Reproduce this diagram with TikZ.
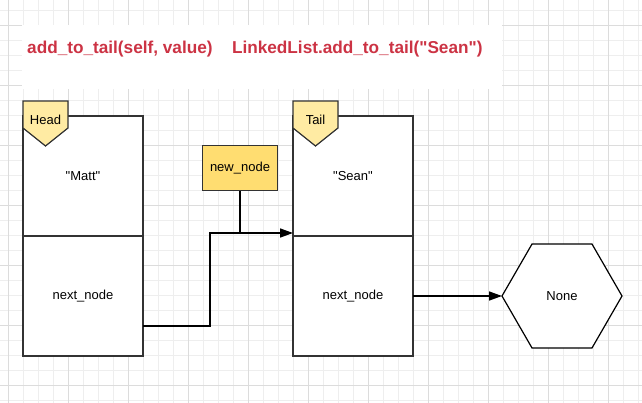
\documentclass[tikz,border=0pt]{standalone}
\usepackage{fontspec}
\setmainfont{Liberation Sans}[Ligatures=TeXOff]
\usepackage{tikz}
\usetikzlibrary{shapes.geometric,positioning,calc,arrows.meta}
\definecolor{titlered}{HTML}{CC3344}
\definecolor{taglight}{HTML}{FFEBA3}
\definecolor{tagdark}{HTML}{FFDD71}
\definecolor{boxline}{HTML}{333333}
\definecolor{gridminor}{HTML}{EEEEEE}
\definecolor{gridmajor}{HTML}{DCDCDC}
\tikzstyle{cell} = [rectangle, minimum width=120pt, minimum height=120pt, outer sep=0pt, draw=boxline, line width=2pt, fill=white, font=\fontsize{13}{15}\selectfont]
\tikzstyle{tagshape} = [draw=boxline, line width=1.2pt, fill=taglight, line join=miter]
\tikzstyle{tagtext} = [inner sep=0pt, font=\fontsize{13}{15}\selectfont]
\tikzstyle{newbox} = [rectangle, minimum width=75pt, minimum height=45pt, draw=boxline, line width=1.5pt, fill=tagdark, font=\fontsize{13}{15}\selectfont]
\tikzstyle{nonebox} = [regular polygon, regular polygon sides=6, minimum size=120pt, inner sep=0pt, outer sep=0pt, draw=black, line width=1.2pt, fill=white, font=\fontsize{13}{15}\selectfont]
\tikzstyle{title} = [inner sep=0pt, font=\fontsize{17.2}{20}\selectfont\bfseries, text=titlered]
\tikzstyle{line} = [line width=1.5pt, draw=black]
\tikzstyle{arrow} = [line, -{Triangle[length=13pt,width=9pt]}]

\begin{document}
\begin{tikzpicture}[x=1pt, y=1pt]
  \useasboundingbox (0,0) rectangle (642,-402);
  \clip (0,0) rectangle (642,-402);
  \fill[white] (0,0) rectangle (642,-402);
  % grid paper
  \begin{scope}[shift={(8,-10.7)}]
    \draw[gridminor, line width=0.8pt, step=15] (-15,15) grid (645,-405);
  \end{scope}
  \begin{scope}[shift={(8,-25.7)}]
    \draw[gridmajor, line width=0.8pt, step=60] (-60,60) grid (660,-420);
  \end{scope}
  \fill[white] (22,-25) rectangle (502,-89);

  \node (sig)[title, anchor=west] at (27,-49.5) {add\_to\_tail(self, value)};
  \node (call)[title, right=19pt of sig] {LinkedList.add\_to\_tail("Sean")};

  \node (matt)[cell] at (83,-176) {"Matt"};
  \node (mattnext)[cell, below=0pt of matt] {next\_node};
  \node (sean)[cell, right=150pt of matt] {"Sean"};
  \node (seannext)[cell, below=0pt of sean] {next\_node};
  \node (none)[nonebox, right=89pt of seannext] {None};
  \node (newnode)[newbox] at (240,-168) {new\_node};
  \coordinate (bend) at (210,-233);

  % pointer tags
  \draw[tagshape] ($(matt.north west)+(0,15)$) -- ++(45,0) -- ++(0,-27) -- ++(-22.5,-18) -- ++(-22.5,18) -- cycle;
  \draw[tagshape] ($(sean.north west)+(0,15)$) -- ++(45,0) -- ++(0,-27) -- ++(-22.5,-18) -- ++(-22.5,18) -- cycle;
  \node (head)[tagtext] at ($(matt.north west)+(22.5,-4)$) {Head};
  \node (tail)[tagtext] at ($(sean.north west)+(22.5,-4)$) {Tail};

  \draw[line] (newnode) -- (newnode |- bend);
  \draw[arrow] ($(mattnext.east)+(0,-30)$) -| (bend) -- (bend -| sean.west);
  \draw[arrow] (seannext) -- (none);
\end{tikzpicture}
\end{document}
